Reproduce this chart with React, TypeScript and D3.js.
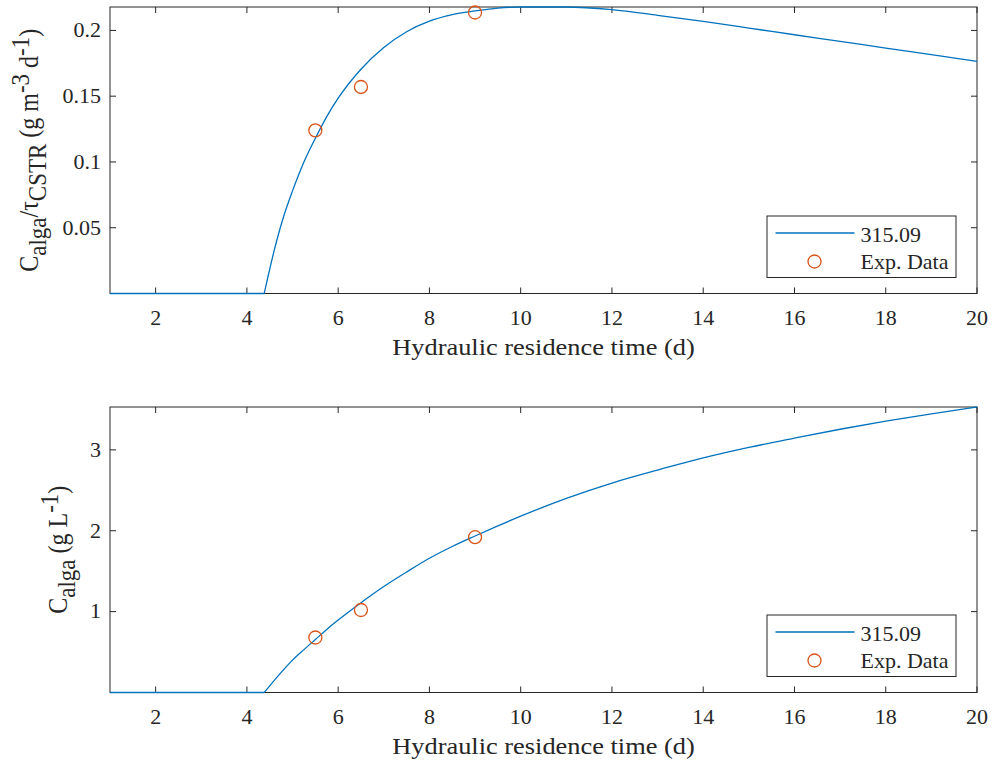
import React from "react";
import * as d3 from "d3";

// fitted model curve, shared x grid
const fitTime = [1, 4.38, 4.6, 4.8, 5, 5.25, 5.5, 5.75, 6, 6.5, 7, 7.5, 8, 8.5, 9, 9.5, 10, 11, 12, 13, 14, 15, 16, 17, 18, 19, 20];
const fitProductivity = [0, 0, 0.033, 0.058, 0.078, 0.1, 0.118, 0.1345, 0.1485, 0.1705, 0.187, 0.199, 0.207, 0.212, 0.2148, 0.217, 0.2178, 0.2178, 0.2158, 0.2115, 0.2068, 0.2018, 0.1967, 0.1917, 0.1866, 0.1816, 0.1765];
const fitConcentration = [0, 0, 0.15, 0.28, 0.4, 0.53, 0.655, 0.78, 0.895, 1.11, 1.31, 1.49, 1.66, 1.805, 1.935, 2.06, 2.18, 2.4, 2.59, 2.75, 2.9, 3.03, 3.145, 3.255, 3.355, 3.445, 3.53];

// experimental points
const expTime = [5.5, 6.5, 9];
const expProductivity = [0.124, 0.157, 0.2136];
const expConcentration = [0.68, 1.02, 1.92];

const xTicks = [2, 4, 6, 8, 10, 12, 14, 16, 18, 20];
const productivityTicks = [0.05, 0.1, 0.15, 0.2];
const concentrationTicks = [1, 2, 3];
const legendNames = ["315.09", "Exp. Data"];
const xTitle = "Hydraulic residence time (d)";

const W = 993;
const H = 763;
const LEFT = 110;
const RIGHT = 977;
const FONT = '"Liberation Serif", "Times New Roman", serif';
const INK = "#262626";
const BLUE = "#0072BD";
const ORANGE = "#D95319";
const SX = 1.1; // the reference text is a bit wider than tall
const TICK = 6;

const x = d3.scaleLinear().domain([1, 20]).range([LEFT, RIGHT]);

// index of the last zero before the curve lifts off (the kink)
const kink = fitProductivity.findIndex((v, i) => i > 0 && v > 0) - 1;

function Txt({ tx, ty, size, anchor = "start", rot = false, dy, children }: any) {
  return (
    <text
      transform={`translate(${tx},${ty}) scale(${SX},1)${rot ? " rotate(-90)" : ""}`}
      fontSize={size}
      fontFamily={FONT}
      fill={INK}
      textAnchor={anchor}
      dy={dy}
      style={{ whiteSpace: "pre" }}
    >
      {children}
    </text>
  );
}

function Panel({ top, bottom, fitY, expY, yTicks, yLabel, labelX }: any) {
  const y = d3.scaleLinear().domain([0, d3.max(fitY) as number]).range([bottom, top]);
  const pts: [number, number][] = fitTime.map((t, i) => [t, fitY[i]]);
  const flat = d3.line<[number, number]>().x((d) => x(d[0])).y((d) => y(d[1]));
  const smooth = d3
    .line<[number, number]>()
    .x((d) => x(d[0]))
    .y((d) => y(d[1]))
    .curve(d3.curveMonotoneX);

  const lw = 189;
  const lh = 61.5;
  const lx = RIGHT - 21 - lw;
  const ly = bottom - 16 - lh;

  return (
    <g>
      <rect x={LEFT} y={top} width={RIGHT - LEFT} height={bottom - top} fill="white" stroke={INK} strokeWidth={1} />
      {xTicks.map((t) => (
        <g key={"x" + t}>
          <line x1={x(t)} x2={x(t)} y1={bottom} y2={bottom - TICK} stroke={INK} />
          <line x1={x(t)} x2={x(t)} y1={top} y2={top + TICK} stroke={INK} />
          <Txt tx={x(t)} ty={bottom + 31.5} size={20} anchor="middle">
            {String(t)}
          </Txt>
        </g>
      ))}
      {yTicks.map((t: number) => (
        <g key={"y" + t}>
          <line x1={LEFT} x2={LEFT + TICK} y1={y(t)} y2={y(t)} stroke={INK} />
          <line x1={RIGHT} x2={RIGHT - TICK} y1={y(t)} y2={y(t)} stroke={INK} />
          <Txt tx={101} ty={y(t)} size={20} anchor="end" dy="0.34em">
            {String(t)}
          </Txt>
        </g>
      ))}
      <Txt tx={(LEFT + RIGHT) / 2} ty={bottom + 61.5} size={24} anchor="middle">
        {xTitle}
      </Txt>
      <Txt tx={labelX} ty={(top + bottom) / 2} size={24} anchor="middle" rot>
        {yLabel}
      </Txt>

      <path d={flat(pts.slice(0, kink + 1)) || ""} fill="none" stroke={BLUE} strokeWidth={1.3} />
      <path d={smooth(pts.slice(kink)) || ""} fill="none" stroke={BLUE} strokeWidth={1.3} />
      {expTime.map((t, i) => (
        <circle key={"p" + i} cx={x(t)} cy={y(expY[i])} r={6.5} fill="none" stroke={ORANGE} strokeWidth={1.3} />
      ))}

      <rect x={lx} y={ly} width={lw} height={lh} fill="white" stroke={INK} strokeWidth={1} />
      <line x1={lx + 8.5} x2={lx + 87.5} y1={ly + 17} y2={ly + 17} stroke={BLUE} strokeWidth={1.3} />
      <Txt tx={lx + 93.5} ty={ly + 25.5} size={20}>
        {legendNames[0]}
      </Txt>
      <circle cx={lx + 47.5} cy={ly + 45.5} r={6.5} fill="none" stroke={ORANGE} strokeWidth={1.3} />
      <Txt tx={lx + 93.5} ty={ly + 52.5} size={20}>
        {legendNames[1]}
      </Txt>
    </g>
  );
}

export default function App() {
  const sub = { fontSize: 23 };
  return (
    <svg width={W} height={H} style={{ position: "absolute", left: 0, top: 0, background: "white" }}>
      <rect width={W} height={H} fill="white" />
      <Panel
        top={7}
        bottom={293.5}
        fitY={fitProductivity}
        expY={expProductivity}
        yTicks={productivityTicks}
        labelX={38}
        yLabel={
          <>
            <tspan>C</tspan>
            <tspan dy={7} {...sub}>alga</tspan>
            <tspan dy={-7}>/τ</tspan>
            <tspan dy={7} {...sub}>CSTR</tspan>
            <tspan dy={-7}> (g m</tspan>
            <tspan dy={-8} {...sub}>-3</tspan>
            <tspan dy={8}> d</tspan>
            <tspan dy={-8} {...sub}>-1</tspan>
            <tspan dy={8}>)</tspan>
          </>
        }
      />
      <Panel
        top={407}
        bottom={692.5}
        fitY={fitConcentration}
        expY={expConcentration}
        yTicks={concentrationTicks}
        labelX={67}
        yLabel={
          <>
            <tspan>C</tspan>
            <tspan dy={7} {...sub}>alga</tspan>
            <tspan dy={-7}> (g L</tspan>
            <tspan dy={-8} {...sub}>-1</tspan>
            <tspan dy={8}>)</tspan>
          </>
        }
      />
    </svg>
  );
}
